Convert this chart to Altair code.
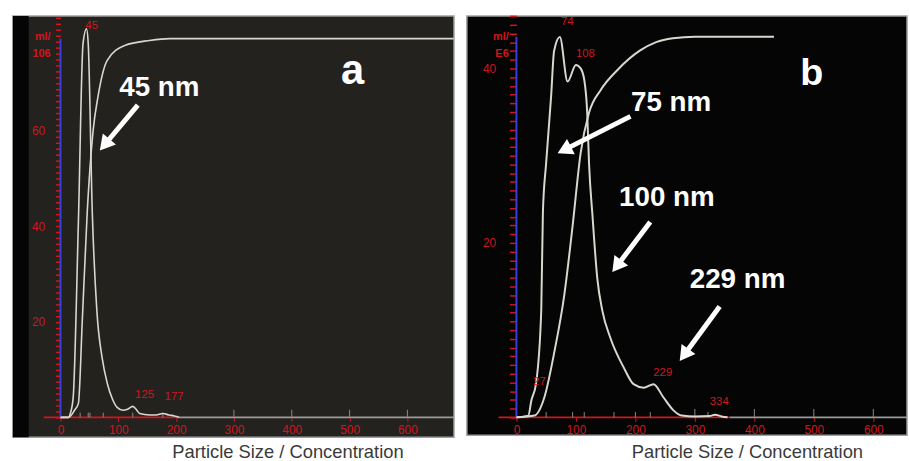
import math
import altair as alt
import pandas as pd

# ---------------- data ----------------
# Panel a: size distribution (nm -> particles/ml E6)
A_SIZE = [0, 14, 17, 22, 31, 39, 45, 48, 55, 63, 72, 81, 90, 98, 108, 116, 125, 132, 137, 154, 165, 177, 188, 197, 206]
A_CONC = [0, 0, 0.8, 4.2, 40.9, 78.3, 81.4, 78.3, 43.0, 22.2, 12.5, 7.1, 3.8, 2.1, 1.5, 1.7, 2.3, 1.5, 0.8, 0.5, 0.5, 0.8, 0.5, 0.3, 0]
# Panel a: cumulative curve (%)
A_CUM_SIZE = [0, 14, 24, 31, 37.7, 46.3, 56.6, 65, 80.6, 111, 154, 189, 680]
A_CUM = [0, 0, 1.8, 3.7, 25.4, 54.2, 75.9, 84.8, 94.2, 98.2, 99.5, 100, 100]
A_PEAK_TEXT = ["45", "125", "177"]
A_PEAK_X = [43, 129, 180]
A_PEAK_Y = [82.0, 4.6, 4.2]
A_MARKS = [34, 48, 51, 74, 125, 177]
A_NOTE_TEXT = ["45 nm"]
A_NOTE_X = [171]
A_NOTE_Y = [68.9]
A_ARROW_FROM = [(133.7, 65.4)]
A_ARROW_TO = [(68.6, 56.0)]
A_LETTER = ["a"]
A_LETTER_X = [505]
A_LETTER_Y = [72.5]
A_UNIT_TEXT = ["ml/", "106"]
A_UNIT_X = [-17, -17]
A_UNIT_Y = [79.7, 76.1]
A_Y_LABELS = [20, 40, 60]

# Panel b
B_SIZE = [0, 20, 25, 33, 41.7, 44.5, 50, 58.3, 63.3, 73, 86, 100, 108, 114, 119, 122, 128, 136, 144.5, 158,
          180.5, 197, 214, 230.5, 247, 264, 278, 300, 325, 334, 345, 355]
B_CONC = [0, 0.2, 1.9, 3.9, 12.2, 23.5, 29.2, 36.8, 42.0, 43.6, 38.5, 40.4, 40.0, 38.7, 34.9, 29.2, 23.0, 15.9, 12.2, 9.1,
          5.7, 3.8, 3.4, 3.8, 2.3, 0.8, 0.2, 0.1, 0.15, 0.3, 0.1, 0]
B_CUM_SIZE = [0, 30.5, 47, 64, 80.5, 94.5, 108, 122, 141.7, 169.5, 208, 235, 263, 300, 433]
B_CUM = [0, 0.5, 5.3, 17.4, 32.2, 50.4, 69.5, 80, 86, 91.2, 96.4, 98.6, 99.6, 100, 100]
B_PEAK_TEXT = ["27", "74", "108", "229", "334"]
B_PEAK_X = [28, 75, 100, 230, 325]
B_PEAK_Y = [4.0, 45.3, 41.7, 5.1, 1.7]
B_MARKS = [50, 94.5, 114, 164, 200, 225, 322]
B_NOTE_TEXT = ["75 nm", "100 nm", "229 nm"]
B_NOTE_X = [260, 253, 371.7]
B_NOTE_Y = [36.0, 25.1, 15.7]
B_ARROW_FROM = [(191.7, 34.5), (225, 22.4), (341.7, 12.7)]
B_ARROW_TO = [(70, 30.3), (161.7, 16.7), (275, 6.5)]
B_LETTER = ["b"]
B_LETTER_X = [496.7]
B_LETTER_Y = [39.4]
B_UNIT_TEXT = ["ml/", "E6"]
B_UNIT_X = [-13, -13]
B_UNIT_Y = [43.6, 41.7]
B_Y_LABELS = [20, 40]

X_LABELS = [0, 100, 200, 300, 400, 500, 600]
TITLE = "Particle Size / Concentration"

# ---------------- style ----------------
FONT = "Liberation Sans"
RED = "#d0161e"
BLUE = "#3c3cd8"
LINE = "#d8d8d0"
WHITE = "#ffffff"


def panel(cfg):
    xs = alt.Scale(domain=cfg["xdom"], nice=False, zero=False)
    ys = alt.Scale(domain=cfg["ydom"], nice=False, zero=False)
    cs = alt.Scale(domain=cfg["cdom"], nice=False, zero=False)
    xaxis = alt.Axis(values=X_LABELS, offset=cfg["xoff"], grid=False, domain=False,
                     tickColor=RED, tickSize=4, tickWidth=1, labelColor=RED, labelFont=FONT,
                     labelFontSize=12, labelPadding=3, labelFlush=False, title=None)
    lab = " || ".join("datum.value == %s" % v for v in cfg["ylabels"])
    yaxis = alt.Axis(values=cfg["yticks"], offset=cfg["yoff"], grid=False, domain=False,
                     tickColor=RED, tickSize=cfg["ytick"], tickWidth=1.5, labelColor=RED,
                     labelFont=FONT, labelFontSize=12, labelPadding=cfg["ypad"],
                     labelExpr="(%s) ? datum.label : ''" % lab, title=None)

    def X(f):
        return alt.X(f, type="quantitative", scale=xs, axis=xaxis, title=None)

    def Y(f, show=True):
        if show:
            return alt.Y(f, type="quantitative", scale=ys, axis=yaxis, title=None)
        return alt.Y(f, type="quantitative", scale=ys, axis=None)

    kx, ky = cfg["kx"], cfg["ky"]
    lw = cfg["lw"]
    layers = []
    if cfg["strip"] is not None:
        strip = pd.DataFrame({"x": [cfg["xdom"][0]], "x2": [cfg["strip"]],
                              "y": [cfg["ydom"][0]], "y2": [cfg["ydom"][1]]})
        layers.append(alt.Chart(strip).mark_rect(color="#050505").encode(
            x=X("x"), x2="x2", y=Y("y"), y2="y2"))
    base = pd.DataFrame({"x": [cfg["red"][1], cfg["red"][0]], "x2": [cfg["xdom"][1], cfg["red"][1]],
                         "y": [0, 0], "c": ["#9a9a9a", RED]})
    layers.append(alt.Chart(base).mark_rule(strokeWidth=1.6).encode(
        x=X("x"), x2="x2", y=Y("y"), color=alt.Color("c", scale=None)))
    marks = pd.DataFrame({"x": cfg["marks"] + [300, 400, 500, 600],
                          "y": [0] * (len(cfg["marks"]) + 4),
                          "y2": [cfg["mh"]] * len(cfg["marks"]) + [cfg["mh"] * 1.6] * 4})
    layers.append(alt.Chart(marks).mark_rule(color="#8a8a8a", strokeWidth=1).encode(
        x=X("x"), y=Y("y"), y2="y2"))
    dist = pd.DataFrame({"size": cfg["size"], "conc": cfg["conc"]})
    layers.append(alt.Chart(dist).mark_line(color=LINE, strokeWidth=lw, interpolate="monotone").encode(
        x=X("size"), y=Y("conc")))
    peaks = pd.DataFrame({"x": cfg["px"], "y": cfg["py"], "t": cfg["pt"]})
    layers.append(alt.Chart(peaks).mark_text(align="left", baseline="middle", color=RED,
                                             font=FONT, fontSize=11.5).encode(
        x=X("x"), y=Y("y"), text="t"))
    units = pd.DataFrame({"x": cfg["ux"], "y": cfg["uy"], "t": cfg["ut"]})
    layers.append(alt.Chart(units).mark_text(align="right", baseline="middle", color=RED,
                                             font=FONT, fontSize=11, fontWeight="bold").encode(
        x=X("x"), y=Y("y"), text="t"))
    base_layer = alt.layer(*layers)

    cum = pd.DataFrame({"size": cfg["csize"], "cum": cfg["cum"]})
    axis_rule = pd.DataFrame({"x": [0], "y": [0], "y2": [100]})
    cum_layer = alt.layer(
        alt.Chart(axis_rule).mark_rule(color=BLUE, strokeWidth=2).encode(
            x=X("x"), y=alt.Y("y", type="quantitative", scale=cs, axis=None), y2="y2"),
        alt.Chart(cum).mark_line(color=LINE, strokeWidth=lw, interpolate="monotone").encode(
            x=X("size"), y=alt.Y("cum", type="quantitative", scale=cs, axis=None)),
    )

    # annotation arrows
    line_rows, head_rows = [], []
    for i, ((sx, sy), (tx, ty)) in enumerate(zip(cfg["afrom"], cfg["ato"])):
        dxp = (tx - sx) * kx
        dyp = -(ty - sy) * ky
        L = math.hypot(dxp, dyp)
        ux, uy = dxp / L, dyp / L
        back = 7.0
        hx = tx - ux * back / kx
        hy = ty + uy * back / ky
        ang = math.degrees(math.atan2(ux, -uy)) % 360
        line_rows += [{"id": i, "o": 0, "x": sx, "y": sy}, {"id": i, "o": 1, "x": hx, "y": hy}]
        head_rows.append({"x": hx, "y": hy, "ang": ang})
    arrows = pd.DataFrame(line_rows)
    heads = pd.DataFrame(head_rows)
    notes = pd.DataFrame({"x": cfg["nx"], "y": cfg["ny"], "t": cfg["nt"]})
    letter = pd.DataFrame({"x": cfg["lx"], "y": cfg["ly"], "t": cfg["lt"]})
    note_layer = alt.layer(
        alt.Chart(arrows).mark_line(color=WHITE, strokeWidth=5).encode(
            x=X("x"), y=Y("y", False), detail="id:N", order="o:Q"),
        alt.Chart(heads).mark_point(shape="triangle-up", filled=True, size=300, color=WHITE,
                                    opacity=1).encode(
            x=X("x"), y=Y("y", False), angle=alt.Angle("ang", type="quantitative", scale=None)),
        alt.Chart(notes).mark_text(align="center", baseline="middle", color=WHITE, font=FONT,
                                   fontSize=28, fontWeight="bold").encode(
            x=X("x"), y=Y("y", False), text="t"),
        alt.Chart(letter).mark_text(align="center", baseline="middle", color=WHITE, font=FONT,
                                    fontSize=cfg["lsize"], fontWeight="bold").encode(
            x=X("x"), y=Y("y", False), text="t"),
    )

    return alt.layer(base_layer, cum_layer, note_layer).resolve_scale(y="independent").properties(
        width=cfg["w"], height=cfg["h"],
        view=alt.ViewBackground(fill=cfg["bg"], stroke="#a0a0a0", strokeWidth=1.5),
        title=alt.TitleParams(TITLE, orient="bottom", anchor="middle", dx=cfg["tdx"],
                              offset=cfg["toff"], font=FONT, fontSize=18.5,
                              fontWeight="normal", color="#3a3a3a"),
    )


A = panel(dict(
    xdom=[-82.3, 680.6], ydom=[-4.15, 84.1], cdom=[-5.24, 106.0], kx=0.5833, ky=4.817,
    w=445, h=425, xoff=-20, yoff=-48, ytick=5, ypad=11,
    yticks=[i * 1.25 for i in range(0, 68)], ylabels=A_Y_LABELS,
    strip=-55, red=[-29, 206], marks=A_MARKS, mh=1.0, lw=1.6,
    size=A_SIZE, conc=A_CONC, csize=A_CUM_SIZE, cum=A_CUM,
    px=A_PEAK_X, py=A_PEAK_Y, pt=A_PEAK_TEXT, ux=A_UNIT_X, uy=A_UNIT_Y, ut=A_UNIT_TEXT,
    afrom=A_ARROW_FROM, ato=A_ARROW_TO, nx=A_NOTE_X, ny=A_NOTE_Y, nt=A_NOTE_TEXT,
    lx=A_LETTER_X, ly=A_LETTER_Y, lt=A_LETTER, lsize=42,
    bg="#24221e", tdx=55, toff=6,
))

B = panel(dict(
    xdom=[-83.3, 656.7], ydom=[-2.05, 46.02], cdom=[-4.69, 105.47], kx=0.6, ky=8.8,
    w=444, h=423, xoff=-18, yoff=-50, ytick=7, ypad=14,
    yticks=list(range(0, 47)), ylabels=B_Y_LABELS,
    strip=None, red=[-30, 358], marks=B_MARKS, mh=0.6, lw=2.0,
    size=B_SIZE, conc=B_CONC, csize=B_CUM_SIZE, cum=B_CUM,
    px=B_PEAK_X, py=B_PEAK_Y, pt=B_PEAK_TEXT, ux=B_UNIT_X, uy=B_UNIT_Y, ut=B_UNIT_TEXT,
    afrom=B_ARROW_FROM, ato=B_ARROW_TO, nx=B_NOTE_X, ny=B_NOTE_Y, nt=B_NOTE_TEXT,
    lx=B_LETTER_X, ly=B_LETTER_Y, lt=B_LETTER, lsize=38,
    bg="#050505", tdx=61, toff=8,
))

chart = alt.hconcat(A, B, spacing=8).properties(
    padding={"left": 12, "top": 12, "right": 0, "bottom": 0},
    background="white",
).configure_view(strokeWidth=1.5)

chart.save("out.html", embed_options={"renderer": "svg", "actions": False})
